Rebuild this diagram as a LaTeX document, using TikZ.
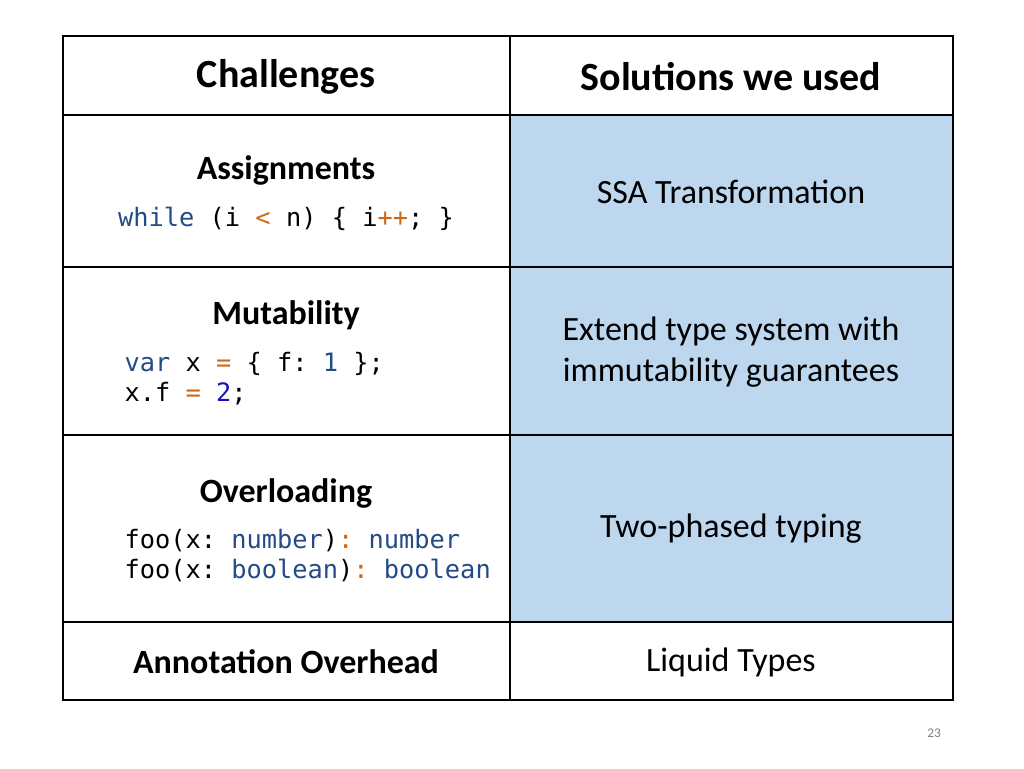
\documentclass[tikz,border=0pt]{standalone}
\usepackage{fontspec}
\setmainfont{Carlito}
\setmonofont{DejaVu Sans Mono}
\usepackage{xcolor}
\definecolor{cellblue}{RGB}{189,215,238}
\definecolor{kwblue}{RGB}{35,75,135}
\definecolor{opbrown}{RGB}{205,105,20}
\definecolor{numblue}{RGB}{20,20,190}
\tikzstyle{head} = [font=\fontsize{30}{36}\selectfont\bfseries]
\tikzstyle{sub} = [font=\fontsize{25.5}{30}\selectfont\bfseries]
\tikzstyle{body} = [font=\fontsize{25.5}{31}\selectfont, align=center]
\tikzstyle{code} = [font=\fontsize{19}{22.5}\selectfont\ttfamily, align=left]
\newcommand{\kw}[1]{\textcolor{kwblue}{#1}}
\newcommand{\op}[1]{\textcolor{opbrown}{#1}}
\newcommand{\nm}[1]{\textcolor{numblue}{#1}}

\begin{document}
\begin{tikzpicture}[x=0.75pt, y=-0.75pt]
\useasboundingbox (0,0) rectangle (1024,768);
% Shaded solution cells
\fill[cellblue] (510,115) rectangle (953,622);
% Grid
\draw[thick] (63,36) rectangle (953,700);
\draw[thick] (510,36) -- (510,700);
\foreach \y in {115,267,435,622}
  \draw[thick] (63,\y) -- (953,\y);

% Header
\node[head] (chal) at (286,77) {Challenges};
\node[head] (sol) at (731,77) {Solutions we used};

% Assignments
\node[sub] (assign) at (286,170) {Assignments};
\node[code] (assigncode) at (286,219) {\kw{while} (i \op{<} n) \{ i\op{++}; \}};
\node[body] (ssa) at (731,192) {SSA Transformation};

% Mutability
\node[sub] (mut) at (286,315) {Mutability};
\node[code, anchor=west] (mutcode) at (120,379)
  {\kw{var} x \op{=} \{ f: \kw{1} \};\\x.f \op{=} \nm{2};};
\node[body] (ext) at (731,352) {Extend type system with\\immutability guarantees};

% Overloading
\node[sub] (over) at (286,493) {Overloading};
\node[code, anchor=west] (overcode) at (120,556)
  {foo(x: \kw{number})\op{:} \kw{number}\\foo(x: \kw{boolean})\op{:} \kw{boolean}};
\node[body] (two) at (731,529) {Two-phased typing};

% Annotation overhead
\node[sub] (annot) at (286,662) {Annotation Overhead};
\node[body] (liquid) at (731,662) {Liquid Types};

\node[font=\fontsize{10}{12}\selectfont, text=gray] (page) at (934,733) {23};
\end{tikzpicture}
\end{document}
